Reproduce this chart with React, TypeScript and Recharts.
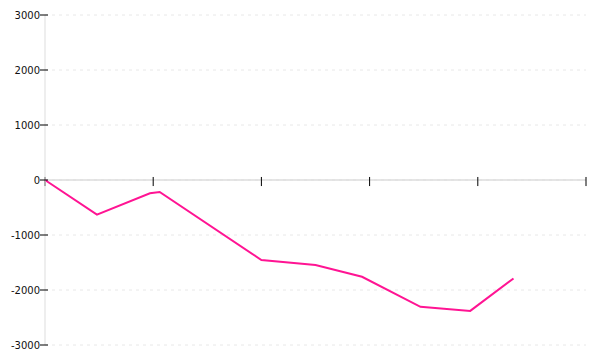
import { LineChart, Line, XAxis, YAxis, CartesianGrid, ReferenceLine } from "recharts";

// x positions in axis units (ticks 0..5)
const xs = [0, 0.48, 0.97, 1.06, 2.0, 2.5, 2.93, 3.47, 3.93, 4.33];
const values = [0, -630, -240, -218, -1455, -1545, -1760, -2305, -2380, -1790];
const xTicks = [0, 1, 2, 3, 4, 5];
const yTicks = [-3000, -2000, -1000, 0, 1000, 2000, 3000];

const data = xs.map((x, i) => ({ x, value: values[i] }));

// eslint-disable-next-line @typescript-eslint/no-explicit-any
const YTick = ({ x, y, payload }: any) => (
    <g>
        <line x1={x - 5} y1={y} x2={x + 3} y2={y} stroke="#000" />
        <text x={x - 5} y={y} dy={3.5} textAnchor="end" fill="#111" fontSize={10} fontFamily="DejaVu Sans">
            {payload.value}
        </text>
    </g>
);

export default function App() {
    return (
        <div style={{ width: 600, height: 360 }}>
            <style>{`body{margin:0}`}</style>
            <LineChart width={600} height={360} data={data} margin={{ top: 15, right: 14, left: 0, bottom: 15 }}>
                <CartesianGrid vertical={false} strokeDasharray="3 4" stroke="#e8e8e8" />
                <XAxis dataKey="x" type="number" domain={[0, 5]} ticks={xTicks} hide />
                <YAxis
                    domain={[-3000, 3000]}
                    ticks={yTicks}
                    width={45}
                    tickSize={0}
                    tickMargin={0}
                    tickLine={false}
                    axisLine={{ stroke: "#dddddd" }}
                    tick={<YTick />}
                    interval={0}
                />
                <ReferenceLine y={0} stroke="#dddddd" strokeWidth={1.5} />
                {xTicks.map((t) => (
                    <ReferenceLine key={t} segment={[{ x: t, y: 55 }, { x: t, y: -110 }]} stroke="#000" ifOverflow="visible" />
                ))}
                <Line type="linear" dataKey="value" stroke="#ff1493" strokeWidth={2} dot={false} isAnimationActive={false} />
            </LineChart>
        </div>
    );
}
